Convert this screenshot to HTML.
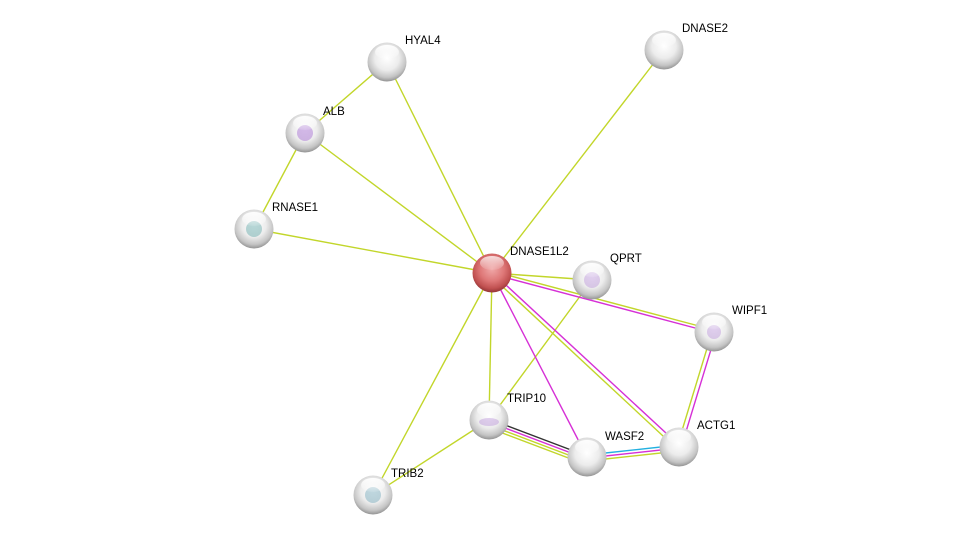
<!DOCTYPE html>
<html><head><meta charset="utf-8"><style>
html,body{margin:0;padding:0;background:#fff;}
svg{display:block;}
text{font-family:"Liberation Sans",Arial,sans-serif;font-size:11.5px;fill:#000;}
</style></head><body>
<svg width="975" height="541" viewBox="0 0 975 541" xmlns="http://www.w3.org/2000/svg">
<defs>
<radialGradient id="g" cx="50%" cy="40%" r="62%">
<stop offset="0" stop-color="#ffffff"/><stop offset="0.5" stop-color="#ececec"/><stop offset="0.8" stop-color="#c4c4c4"/><stop offset="1" stop-color="#8a8a8a"/>
</radialGradient>
<radialGradient id="r" cx="50%" cy="40%" r="62%">
<stop offset="0" stop-color="#f0a8a8"/><stop offset="0.5" stop-color="#de7777"/><stop offset="0.8" stop-color="#c05050"/><stop offset="1" stop-color="#8a3030"/>
</radialGradient>
<linearGradient id="hl" x1="0" y1="0" x2="0" y2="1">
<stop offset="0" stop-color="#fff" stop-opacity="0.95"/><stop offset="1" stop-color="#fff" stop-opacity="0.1"/>
</linearGradient>
</defs>
<g stroke-width="1.4" fill="none">
<g stroke="#c2d62a">
<line x1="387" y1="62" x2="305" y2="133"/>
<line x1="387" y1="62" x2="492" y2="273"/>
<line x1="305" y1="133" x2="254" y2="229"/>
<line x1="305" y1="133" x2="492" y2="273"/>
<line x1="254" y1="229" x2="492" y2="273"/>
<line x1="664" y1="50" x2="492" y2="273"/>
<line x1="492" y1="273" x2="592" y2="280"/>
<line x1="492" y1="273" x2="489" y2="420"/>
<line x1="492" y1="273" x2="373" y2="495"/>
<line x1="592" y1="280" x2="489" y2="420"/>
<line x1="489" y1="420" x2="373" y2="495"/>
<line x1="492" y1="271" x2="714" y2="330"/>
<line x1="490" y1="275" x2="677" y2="449"/>
<line x1="712" y1="332" x2="677" y2="447"/>
<line x1="489" y1="425" x2="587" y2="462"/>
<line x1="489" y1="428" x2="587" y2="465"/>
<line x1="587" y1="461" x2="679" y2="451"/>
</g>
<g stroke="#d630d6">
<line x1="492" y1="274" x2="714" y2="333"/>
<line x1="493" y1="273" x2="680" y2="446"/>
<line x1="716" y1="333" x2="681" y2="448"/>
<line x1="492" y1="273" x2="587" y2="457"/>
<line x1="489" y1="422" x2="587" y2="459"/>
<line x1="587" y1="458" x2="679" y2="448"/>
</g>
<line x1="489" y1="419" x2="587" y2="456" stroke="#333"/>
<line x1="587" y1="455" x2="679" y2="445" stroke="#22b0e0"/>
</g>
<g>
<g transform="translate(387,62)"><circle r="19.5" fill="url(#g)"/><ellipse cx="0" cy="-10" rx="12" ry="7" fill="url(#hl)"/></g>
<g transform="translate(664,50)"><circle r="19.5" fill="url(#g)"/><ellipse cx="0" cy="-10" rx="12" ry="7" fill="url(#hl)"/></g>
<g transform="translate(305,133)"><circle r="19.5" fill="url(#g)"/><circle r="8" fill="#b58ad8" opacity="0.6"/><ellipse cx="0" cy="-10" rx="12" ry="7" fill="url(#hl)"/></g>
<g transform="translate(254,229)"><circle r="19.5" fill="url(#g)"/><circle r="8" fill="#70b0b0" opacity="0.5"/><ellipse cx="0" cy="-10" rx="12" ry="7" fill="url(#hl)"/></g>
<g transform="translate(492,273)"><circle r="19.5" fill="url(#r)"/><ellipse cx="0" cy="-10" rx="12" ry="7" fill="url(#hl)" opacity="0.8"/></g>
<g transform="translate(592,280)"><circle r="19.5" fill="url(#g)"/><circle r="8" fill="#b58ad8" opacity="0.4"/><ellipse cx="0" cy="-10" rx="12" ry="7" fill="url(#hl)"/></g>
<g transform="translate(714,332)"><circle r="19.5" fill="url(#g)"/><circle r="7" fill="#b58ad8" opacity="0.4"/><ellipse cx="0" cy="-10" rx="12" ry="7" fill="url(#hl)"/></g>
<g transform="translate(489,420)"><circle r="19.5" fill="url(#g)"/><ellipse cx="0" cy="2" rx="10" ry="4" fill="#b58ad8" opacity="0.4"/><ellipse cx="0" cy="-10" rx="12" ry="7" fill="url(#hl)"/></g>
<g transform="translate(587,457)"><circle r="19.5" fill="url(#g)"/><ellipse cx="0" cy="-10" rx="12" ry="7" fill="url(#hl)"/></g>
<g transform="translate(679,447)"><circle r="19.5" fill="url(#g)"/><ellipse cx="0" cy="-10" rx="12" ry="7" fill="url(#hl)"/></g>
<g transform="translate(373,495)"><circle r="19.5" fill="url(#g)"/><circle r="8" fill="#80b0c0" opacity="0.5"/><ellipse cx="0" cy="-10" rx="12" ry="7" fill="url(#hl)"/></g>
</g>
<text x="405" y="44">HYAL4</text>
<text x="682" y="32">DNASE2</text>
<text x="323" y="115">ALB</text>
<text x="272" y="211">RNASE1</text>
<text x="510" y="255">DNASE1L2</text>
<text x="610" y="262">QPRT</text>
<text x="732" y="314">WIPF1</text>
<text x="507" y="402">TRIP10</text>
<text x="605" y="440">WASF2</text>
<text x="697" y="429">ACTG1</text>
<text x="391" y="477">TRIB2</text>
</svg>
</body></html>
